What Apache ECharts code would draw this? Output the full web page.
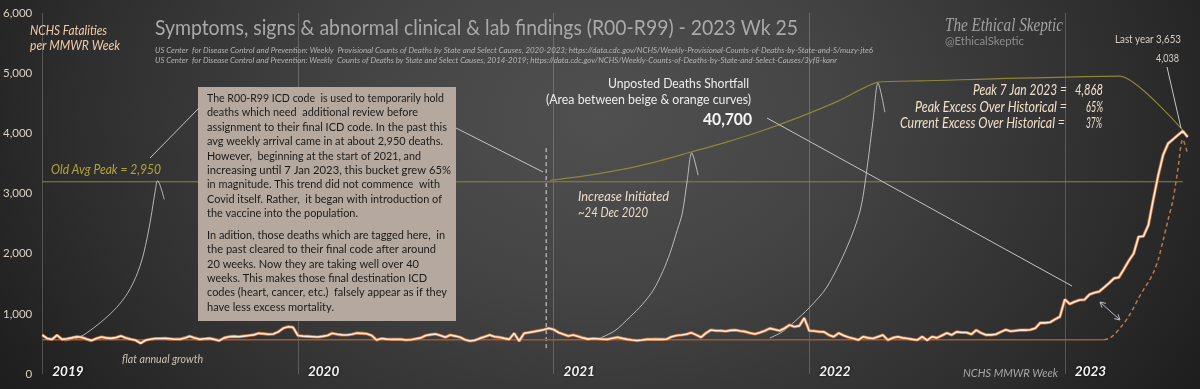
<!DOCTYPE html>
<html>
<head>
<meta charset="utf-8">
<script src="https://cdn.jsdelivr.net/npm/echarts@6/dist/echarts.min.js"></script>
<style>
html,body{margin:0;padding:0;background:#2a2a2a;}
#chart{width:1200px;height:389px;background:radial-gradient(ellipse 58% 130% at 50% 30%, #505050 0%, #444444 35%, #2e2e2e 75%, #1e1e1e 100%);}
</style>
</head>
<body>
<div id="chart"></div>
<script>
// ---------------- DATA ----------------
const yTickLabels = ['0','1,000','2,000','3,000','4,000','5,000','6,000'];
const yearLabels = ['2019','2020','2021','2022','2023'];
const weeksPerYear = 52;

// weekly R00-R99 counts (beige curve)
const beige2019 = [648,590,576,645,575,585,600,620,610,580,555,590,615,600,592,605,630,600,578,560,512,560,578,590,590,592,585,578,578,600,628,600,576,585,592,575,554,600,620,625,620,630,640,650,676,670,660,665,700,760,786,775];
const beige2020 = [640,630,625,620,615,625,640,676,660,650,648,660,680,676,670,640,565,590,580,576,576,576,565,570,585,600,640,655,665,640,612,648,630,610,570,548,560,592,620,648,620,610,592,576,676,548,676,690,704,720,735,760];
const beige2021 = [740,690,660,631,648,625,600,580,590,585,578,576,595,610,592,575,565,556,565,575,576,578,576,578,620,640,648,660,687,650,610,680,731,720,720,710,725,730,715,704,680,665,690,720,758,740,720,760,814,786,800,930];
const beige2022 = [720,715,703,700,650,620,680,640,610,590,565,620,600,590,620,648,565,600,620,600,590,575,565,620,560,620,600,640,680,650,700,690,690,660,730,680,650,650,660,700,735,710,720,730,730,735,760,850,850,860,908,952];
const beige2023 = [1240,1163,1200,1230,1235,1320,1350,1370,1440,1510,1590,1606,1740,1880,2000,2280,2290,2475,2900,3300,3640,3830,3900,3970,4038,3940];

// orange baseline (historical flat) and dashed shifted curve
const baselineLevel = 570;
const baselineEndWeek = 216;
const dashedStartWeek = 216;
const dashedValues = [570,590,650,740,840,960,1100,1260,1400,1530,1680,1900,2220,2560,2890,3400,3900,3653];

// olive reference lines
const oldAvgLevel = 3195;
const oldAvgEndWeek = 232;
const oliveCurve = [[103.3,3220],[110,3290],[118,3400],[125,3530],[132,3690],[139,3850],[146,4030],[154,4270],[162,4540],[170,4850],[178.6,4872],[219.2,4950],[232,4053]];

// grey illustrative arrival curves
const bell1 = [[4.5,550],[7.5,610],[10.5,770],[13.2,952],[15.7,1160],[17.9,1420],[19.9,1800],[21.3,2250],[22.3,2700],[23,3056],[23.45,3211],[24.8,2902]];
const bell2 = [[113.5,598],[116.5,720],[119.6,952],[122,1150],[124.3,1395],[126.2,1700],[127.7,2010],[129.2,2400],[130.2,2674],[131.2,3223],[132.1,3676],[133.4,3306]];
const bell3 = [[148,598],[150.5,700],[152.7,847],[156,1100],[159.6,1445],[163.7,2110],[166.4,2724],[167.8,3439],[169,4219],[170,4834],[171.4,4352]];

// "increase initiated" marker
const increaseWeek = 102.5;
const increaseSpan = [430, 3800];

// texts
const TITLE = 'Symptoms, signs & abnormal clinical & lab findings (R00-R99) - 2023 Wk 25';
const SRC1 = 'US Center  for Disease Control and Prevention: Weekly  Provisional Counts of Deaths by State and Select Causes, 2020-2023; https://data.cdc.gov/NCHS/Weekly-Provisional-Counts-of-Deaths-by-State-and-S/muzy-jte6';
const SRC2 = 'US Center  for Disease Control and Prevention: Weekly  Counts of Deaths by State and Select Causes, 2014-2019; https://data.cdc.gov/NCHS/Weekly-Counts-of-Deaths-by-State-and-Select-Causes/3yf8-kanr';
const boxPara1 = [
 'The R00-R99 ICD code  is used to temporarily hold',
 'deaths which need  additional review before',
 'assignment to their final ICD code. In the past this',
 'avg weekly arrival came in at about 2,950 deaths.',
 'However,  beginning at the start of 2021, and',
 'increasing until 7 Jan 2023, this bucket grew 65%',
 'in magnitude. This trend did not commence  with',
 'Covid itself. Rather,  it began with introduction of',
 'the vaccine into the population.'
];
const boxPara2 = [
 'In adition, those deaths which are tagged here,  in',
 'the past cleared to their final code after around',
 '20 weeks. Now they are taking well over 40',
 'weeks. This makes those final destination ICD',
 'codes (heart, cancer, etc.)  falsely appear as if they',
 'have less excess mortality.'
];
const boxPara1Right = [444,418,447,443,421,451,440,442,358];
const boxPara2Right = [445,436,419,427,447,334];

// ---------------- BUILD ----------------
const beigeAll = [].concat(beige2019, beige2020, beige2021, beige2022, beige2023);
const beigeData = beigeAll.map((v,i)=>[i,v]);
const dashedData = dashedValues.map((v,i)=>[dashedStartWeek+i, v]);
const maxWeek = beigeAll.length - 1;

const cv = document.createElement('canvas').getContext('2d');
function T(str, x, y, o){
  const size = o.size||12, style=o.style||'normal', weight=o.weight||'normal', fam=o.family||'Lato';
  const font = style+' '+weight+' '+size+'px '+fam;
  cv.font = font;
  const nat = cv.measureText(str).width;
  const sx = o.w ? o.w/nat : 1;
  const align = o.align||'left';
  return {type:'text', x:x, y:y, scaleX:sx, z:o.z||110, silent:true,
    style:{text:str, font:font, fill:o.color||'#ddd', align:align, verticalAlign:'middle', textAlign:align, textVerticalAlign:'middle',
      textShadowColor:o.shadow||'transparent', textShadowBlur:o.shadow?2:0}};
}
function L(x1,y1,x2,y2,color,w){
  return {type:'line', z:105, silent:true, shape:{x1,y1,x2,y2}, style:{stroke:color||'#c4c4c4', lineWidth:w||1}};
}
function arrowHeads(x1,y1,x2,y2,len){
  const out=[]; const ang=Math.atan2(y2-y1,x2-x1);
  [[x1,y1,ang],[x2,y2,ang+Math.PI]].forEach(([px,py,a])=>{
    [a+0.5,a-0.5].forEach(b=>{ out.push(L(px,py,px+len*Math.cos(b),py+len*Math.sin(b),'#b8bcc4',1)); });
  });
  return out;
}

const graphics = [];
// text box
graphics.push({type:'rect', z:100, silent:true, shape:{x:198,y:87,width:258,height:234}, style:{fill:'#b5a99f'}});
boxPara1.forEach((s,i)=>graphics.push(T(s,207,98.3+14.4*i,{size:11.5,color:'#1c1a18',w:boxPara1Right[i]-207,z:101})));
boxPara2.forEach((s,i)=>graphics.push(T(s,207,235+14.4*i,{size:11.5,color:'#1c1a18',w:boxPara2Right[i]-207,z:101})));

// header texts
graphics.push(T('NCHS Fatalities',30,31,{size:13.5,style:'italic',color:'#f2cba6',w:77}));
graphics.push(T('per MMWR Week',30,45.5,{size:13.5,style:'italic',color:'#f2cba6',w:90}));
graphics.push(T(TITLE,155,28,{size:21,color:'#a9a9a9',w:643}));
graphics.push(T(SRC1,155,50.7,{size:8.5,style:'italic',color:'#b4b4b4',w:718}));
graphics.push(T(SRC2,155,60.7,{size:8.5,style:'italic',color:'#b4b4b4',w:682}));
graphics.push(T('The Ethical Skeptic',945,26,{size:18,style:'italic',family:'Liberation Serif',color:'#a2a2a2',w:118}));
graphics.push(T('@EthicalSkeptic',945,41,{size:12,color:'#8e8e8e',w:79}));
graphics.push(T('Last year 3,653',1115,39,{size:12,color:'#d6cec6',w:66}));
graphics.push(T('4,038',1156,58,{size:12,color:'#d6cec6',w:23}));
const pk = {size:14.5,style:'italic',color:'#f3e0c8',align:'right'};
graphics.push(T('Peak 7 Jan 2023 =',1067,90.5,Object.assign({},pk,{w:94})));
graphics.push(T('4,868',1103,90.5,Object.assign({},pk,{w:28})));
graphics.push(T('Peak Excess Over Historical =',1067,107,Object.assign({},pk,{w:152})));
graphics.push(T('65%',1103,107,Object.assign({},pk,{w:17})));
graphics.push(T('Current Excess Over Historical =',1065,123.5,Object.assign({},pk,{w:165})));
graphics.push(T('37%',1102,123.5,Object.assign({},pk,{w:16})));
graphics.push(T('Unposted Deaths Shortfall',608,84,{size:13.5,color:'#ececec',w:141}));
graphics.push(T('(Area between beige & orange curves)',546,99.5,{size:13.5,color:'#ececec',w:205}));
graphics.push(T('40,700',752,120,{size:17,weight:'bold',color:'#f4f4f4',align:'right',w:49}));
graphics.push(T('Old Avg Peak = 2,950',51,170,{size:13,style:'italic',color:'#b6a434',w:110}));
graphics.push(T('Increase Initiated',578,197,{size:13,style:'italic',color:'#eadcc8',w:91}));
graphics.push(T('~24 Dec 2020',578,213,{size:13,style:'italic',color:'#eadcc8',w:70}));
graphics.push(T('flat annual growth',122,359,{size:11,style:'italic',color:'#c9c1b3',w:81}));
graphics.push(T('NCHS MMWR Week',963,373,{size:12,style:'italic',color:'#a8a8a8',w:95}));

// connector lines & arrow
graphics.push(L(150,158,199,108));
graphics.push(L(456,128,543,172));
graphics.push(L(767,118,1072,286));
graphics.push(L(1167,67,1181,128));
graphics.push(L(1100,302,1120,320,'#b8bcc4',1));
arrowHeads(1100,302,1120,320,6).forEach(g=>graphics.push(g));

const lineBase = {type:'line', symbol:'none', silent:true, animation:false};
const option = {
  animation:false,
  backgroundColor:'transparent',
  grid:{left:42, right:12.3, top:13, bottom:15, containLabel:false},
  xAxis:{type:'value', min:0, max:maxWeek, interval:weeksPerYear,
    axisLine:{show:false}, axisTick:{show:false},
    splitLine:{show:true, lineStyle:{color:['rgba(190,190,190,0.3)','rgba(190,190,190,0.3)','rgba(190,190,190,0.3)','rgba(190,190,190,0.3)','rgba(190,190,190,0.3)','rgba(0,0,0,0)'], width:1}},
    axisLabel:{inside:true, margin:2, verticalAlign:'middle', align:'left', padding:[0,0,0,10],
      formatter:v=> (v%weeksPerYear===0 && yearLabels[v/weeksPerYear]) || '',
      color:'#f4f4f4', fontFamily:'Lato', fontWeight:'bold', fontStyle:'italic', fontSize:13.5,
      textShadowColor:'rgba(0,0,0,0.7)', textShadowBlur:3, showMaxLabel:false}
  },
  yAxis:{type:'value', min:0, max:6000, interval:1000,
    axisLine:{show:false}, axisTick:{show:false}, splitLine:{show:false},
    axisLabel:{margin:10, formatter:v=>yTickLabels[Math.round(v/1000)], color:'#dcd2c4', fontFamily:'Lato', fontSize:11.5}
  },
  graphic:{elements:graphics},
  series:[
    Object.assign({},lineBase,{name:'oldavg', z:2, data:[[0,oldAvgLevel],[oldAvgEndWeek,oldAvgLevel]], lineStyle:{color:'#8e8636',width:1.2}}),
    Object.assign({},lineBase,{name:'olivecurve', z:2, data:oliveCurve, smooth:0.2, lineStyle:{color:'#8e8636',width:1.2}}),
    Object.assign({},lineBase,{name:'bell1', z:3, data:bell1, smooth:0.35, lineStyle:{color:'rgba(215,215,215,0.8)',width:1}}),
    Object.assign({},lineBase,{name:'bell2', z:3, data:bell2, smooth:0.3, lineStyle:{color:'rgba(215,215,215,0.8)',width:1}}),
    Object.assign({},lineBase,{name:'bell3', z:3, data:bell3, smooth:0.3, lineStyle:{color:'rgba(215,215,215,0.8)',width:1}}),
    Object.assign({},lineBase,{name:'increase', z:3, data:[[increaseWeek,increaseSpan[0]],[increaseWeek,increaseSpan[1]]], lineStyle:{color:'#dcdcdc',width:1,type:[4,3]}}),
    Object.assign({},lineBase,{name:'baseline', z:4, data:[[0,baselineLevel],[baselineEndWeek,baselineLevel]], lineStyle:{color:'#a05a32',width:1.6}}),
    Object.assign({},lineBase,{name:'shifted', z:4, data:dashedData, smooth:0.3, lineStyle:{color:'#b8784c',width:1.5,type:[4,3]}}),
    Object.assign({},lineBase,{name:'beigeGlow', z:5, data:beigeData, lineStyle:{color:'#c4703e',width:3.2}}),
    Object.assign({},lineBase,{name:'beige', z:6, data:beigeData, lineStyle:{color:'#fde8d6',width:1.6}})
  ]
};
const chart = echarts.init(document.getElementById('chart'), null, {renderer:'canvas'});
chart.setOption(option);
</script>
</body>
</html>
